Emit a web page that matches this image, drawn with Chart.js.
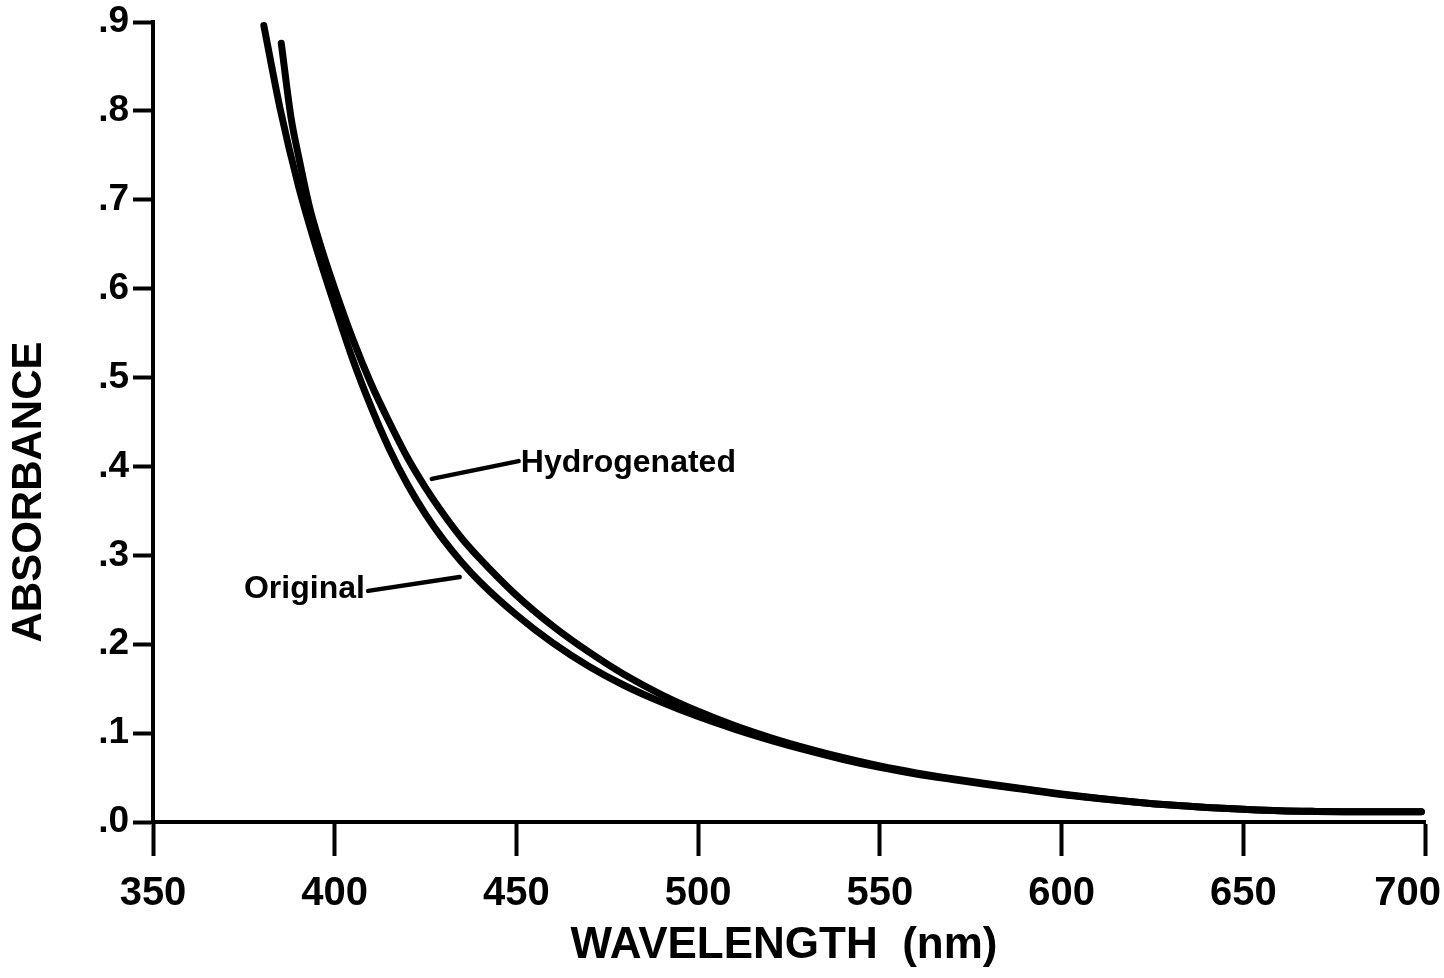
<!DOCTYPE html>
<html>
<head>
<meta charset="utf-8">
<title>Absorbance spectra</title>
<script src="https://cdn.jsdelivr.net/npm/chart.js@4.4.1/dist/chart.umd.min.js"></script>
<style>
  html, body { margin: 0; padding: 0; background: #ffffff; }
  #wrap { width: 1444px; height: 978px; position: relative; }
</style>
</head>
<body>
<div id="wrap"><canvas id="spectrum" width="1444" height="978"></canvas></div>
<script>
// Wavelength (nm) and absorbance readings for the two samples
const originalWavelength = [380.5, 385, 390, 395, 400, 405, 410, 415, 420, 425, 430, 435, 440, 450, 460, 470, 480, 490, 500, 510, 520, 530, 540, 550, 560, 570, 580, 590, 600, 610, 620, 630, 640, 650, 660, 670, 680, 690, 699];
const originalAbsorbance = [0.896, 0.802, 0.716, 0.645, 0.581, 0.520, 0.467, 0.420, 0.380, 0.346, 0.317, 0.292, 0.270, 0.233, 0.2015, 0.175, 0.153, 0.1347, 0.1186, 0.1045, 0.0919, 0.0805, 0.0703, 0.0614, 0.054, 0.0478, 0.042, 0.0365, 0.031, 0.0265, 0.0224, 0.019, 0.0164, 0.0143, 0.0126, 0.0119, 0.0116, 0.0115, 0.0115];

const hydrogenatedWavelength = [385.3, 388, 390, 393, 396, 400, 405, 410, 415, 420, 425, 430, 435, 440, 450, 460, 470, 480, 490, 500, 510, 520, 530, 540, 550, 560, 570, 580, 590, 600, 610, 620, 630, 640, 650, 660, 670, 680, 690, 699];
const hydrogenatedAbsorbance = [0.876, 0.792, 0.750, 0.693, 0.650, 0.600, 0.543, 0.493, 0.450, 0.410, 0.376, 0.346, 0.319, 0.296, 0.255, 0.2205, 0.191, 0.165, 0.143, 0.1245, 0.1085, 0.0948, 0.0828, 0.0723, 0.063, 0.0553, 0.0488, 0.0428, 0.0371, 0.0316, 0.0268, 0.0226, 0.019, 0.0164, 0.0143, 0.0126, 0.0119, 0.0116, 0.0115, 0.0115];

// Axis ticks
const wavelengthTicks = [350, 400, 450, 500, 550, 600, 650, 700];
const absorbanceTicks = [0, 0.1, 0.2, 0.3, 0.4, 0.5, 0.6, 0.7, 0.8, 0.9];

// Curve labels with leader lines, in data units
const curveLabels = [
  { text: 'Hydrogenated', align: 'left',  textAt: [451.2, 0.404], leaderFrom: [426.7, 0.386], leaderTo: [450.6, 0.406] },
  { text: 'Original',     align: 'right', textAt: [408.3, 0.262], leaderFrom: [409.2, 0.260], leaderTo: [434.4, 0.2756] }
];

const FONT = '"Liberation Sans", Arial, Helvetica, sans-serif';

function toPoints(xs, ys) {
  return xs.map((x, i) => ({ x: x, y: ys[i] }));
}

// Keep the last wavelength label inside the canvas edge
const edgeLabelPlugin = {
  id: 'edgeLabel',
  beforeDraw(chart) {
    const scale = chart.scales.x;
    const items = scale.getLabelItems(chart.chartArea);
    if (!items.length) return;
    const last = items[items.length - 1];
    const ctx = chart.ctx;
    ctx.save();
    ctx.font = last.font.string;
    const w = ctx.measureText(String(last.label)).width;
    ctx.restore();
    const right = Math.min(last.options.translation[0] + w / 2, chart.width - 3);
    last.options.textAlign = 'right';
    last.options.translation[0] = right;
  }
};

const curveLabelPlugin = {
  id: 'curveLabels',
  afterDatasetsDraw(chart) {
    const { ctx } = chart;
    const xs = chart.scales.x, ys = chart.scales.y;
    ctx.save();
    ctx.strokeStyle = '#000';
    ctx.fillStyle = '#000';
    ctx.lineWidth = 4.5;
    ctx.lineCap = 'round';
    ctx.font = 'bold 32px ' + FONT;
    ctx.textBaseline = 'middle';
    curveLabels.forEach(l => {
      ctx.beginPath();
      ctx.moveTo(xs.getPixelForValue(l.leaderFrom[0]), ys.getPixelForValue(l.leaderFrom[1]));
      ctx.lineTo(xs.getPixelForValue(l.leaderTo[0]), ys.getPixelForValue(l.leaderTo[1]));
      ctx.stroke();
      ctx.textAlign = l.align;
      ctx.fillText(l.text, xs.getPixelForValue(l.textAt[0]), ys.getPixelForValue(l.textAt[1]));
    });
    ctx.restore();
  }
};

const axisTitlePlugin = {
  id: 'axisTitles',
  afterDraw(chart) {
    const { ctx } = chart;
    ctx.save();
    ctx.fillStyle = '#000';
    ctx.textAlign = 'center';
    ctx.textBaseline = 'middle';
    ctx.font = 'bold 44px ' + FONT;
    ctx.fillText('WAVELENGTH  (nm)', 784, 946);
    ctx.translate(29, 492);
    ctx.rotate(-Math.PI / 2);
    ctx.font = 'bold 42px ' + FONT;
    ctx.fillText('ABSORBANCE', 0, 0);
    ctx.restore();
  }
};

const lineStyle = {
  borderColor: '#000',
  borderWidth: 7,
  pointRadius: 0,
  pointHoverRadius: 0,
  fill: false,
  cubicInterpolationMode: 'monotone',
  borderCapStyle: 'round',
  borderJoinStyle: 'round'
};

new Chart(document.getElementById('spectrum'), {
  type: 'line',
  data: {
    datasets: [
      Object.assign({ label: 'Original', data: toPoints(originalWavelength, originalAbsorbance) }, lineStyle),
      Object.assign({ label: 'Hydrogenated', data: toPoints(hydrogenatedWavelength, hydrogenatedAbsorbance) }, lineStyle)
    ]
  },
  options: {
    responsive: false,
    animation: false,
    devicePixelRatio: 1,
    layout: { padding: { top: 22, right: 19, left: 0, bottom: 0 } },
    plugins: { legend: { display: false }, tooltip: { enabled: false } },
    scales: {
      x: {
        type: 'linear',
        min: 350,
        max: 700,
        afterBuildTicks: s => { s.ticks = wavelengthTicks.map(v => ({ value: v })); },
        afterFit: s => { s.height = 156; s.paddingLeft = 0; s.paddingRight = 0; },
        border: { display: true, color: '#000', width: 4 },
        grid: { display: true, drawOnChartArea: false, drawTicks: true, tickLength: 34, tickWidth: 4, tickColor: '#000' },
        ticks: {
          color: '#000',
          font: { family: FONT, size: 40, weight: 'bold' },
          padding: 14,
          maxRotation: 0,
          autoSkip: false
        }
      },
      y: {
        type: 'linear',
        min: 0,
        max: 0.9,
        afterBuildTicks: s => { s.ticks = absorbanceTicks.map(v => ({ value: v })); },
        afterFit: s => { s.width = 153; s.paddingTop = 0; s.paddingBottom = 0; },
        border: { display: true, color: '#000', width: 4 },
        grid: { display: true, drawOnChartArea: false, drawTicks: true, tickLength: 20, tickWidth: 4, tickColor: '#000' },
        ticks: {
          color: '#000',
          font: { family: FONT, size: 37, weight: 'bold' },
          padding: 4,
          autoSkip: false,
          callback: v => '.' + Math.round(v * 10)
        }
      }
    }
  },
  plugins: [edgeLabelPlugin, curveLabelPlugin, axisTitlePlugin]
});
</script>
</body>
</html>
